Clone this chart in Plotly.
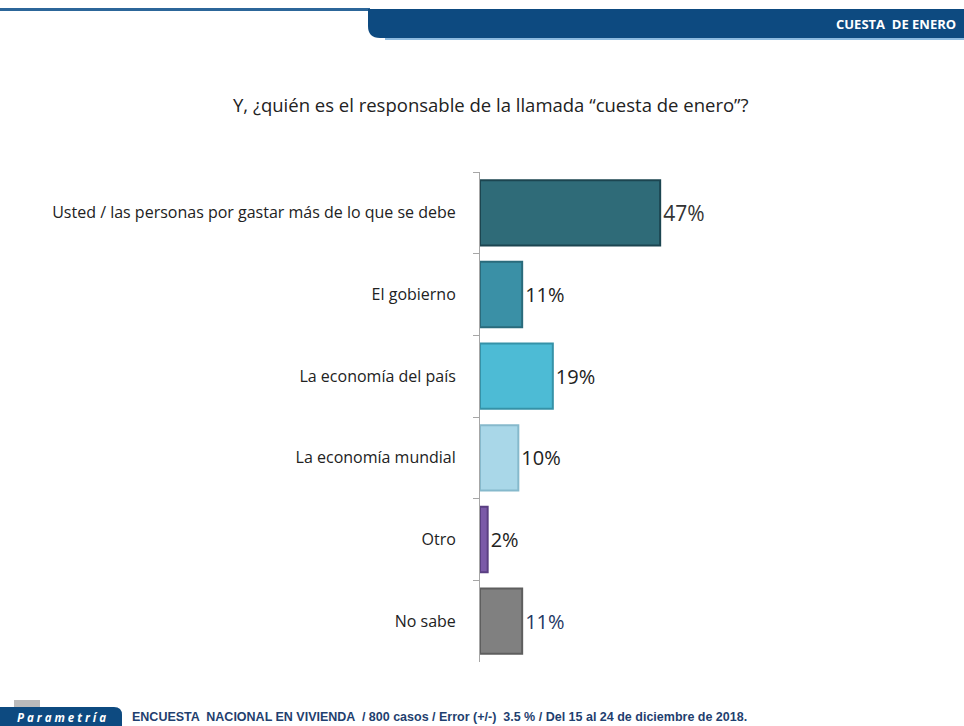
import plotly.graph_objects as go

categories = [
    "Usted / las personas por gastar más de lo que se debe",
    "El gobierno",
    "La economía del país",
    "La economía mundial",
    "Otro",
    "No sabe",
]
values = [47, 11, 19, 10, 2, 11]
labels = ["47%", "11%", "19%", "10%", "2%", "11%"]

bar_colors = ["#2F6B78", "#3A90A6", "#4DBBD5", "#A9D7E8", "#7B5AA8", "#808080"]
edge_colors = ["#1C4550", "#2A6B7C", "#3592A8", "#86B9CC", "#5A3F82", "#5E5E5E"]
text_colors = ["#333333", "#222222", "#222222", "#222222", "#222222", "#1F3864"]
text_sizes = [21, 20, 20, 20, 20, 20]

W, H = 964, 726
L, R, T, B = 480, 254, 172, 64
PW, PH = W - L - R, H - T - B

def px(x):
    return (x - L) / PW

def py(y):
    return 1 - (y - T) / PH

fig = go.Figure()
fig.add_trace(go.Bar(
    y=categories, x=values, orientation="h",
    marker=dict(color=bar_colors, line=dict(color=edge_colors, width=2)),
    width=0.8,
    text=labels, textposition="outside", cliponaxis=False,
    textfont=dict(family="Open Sans, sans-serif", color=text_colors, size=text_sizes),
    hoverinfo="skip",
))

shapes = []
# header thin line
shapes.append(dict(type="rect", xref="paper", yref="paper",
                   x0=px(0), x1=px(370), y0=py(11), y1=py(8),
                   fillcolor="#2C6699", line=dict(width=0), layer="below"))
# header band with rounded bottom-left
x0, x1, y0, y1, r = px(368), px(964), py(9), py(38), 12
path = (f"M {x0},{y0} L {x1},{y0} L {x1},{y1} L {px(368+r)},{y1} "
        f"Q {x0},{y1} {x0},{py(38-r)} Z")
shapes.append(dict(type="path", xref="paper", yref="paper", path=path,
                   fillcolor="#0D4A80", line=dict(width=0), layer="below"))
shapes.append(dict(type="rect", xref="paper", yref="paper",
                   x0=px(385), x1=px(964), y0=py(40), y1=py(38),
                   fillcolor="#8DBBE0", line=dict(width=0), layer="below"))
# footer box with rounded top-right
fx0, fx1, fy0, fy1, fr = px(0), px(122), py(707), py(726), 8
fpath = (f"M {fx0},{fy1} L {fx0},{fy0} L {px(122-fr)},{fy0} "
         f"Q {fx1},{fy0} {fx1},{py(707+fr)} L {fx1},{fy1} Z")
shapes.append(dict(type="path", xref="paper", yref="paper", path=fpath,
                   fillcolor="#0D4A80", line=dict(width=0), layer="below"))
shapes.append(dict(type="rect", xref="paper", yref="paper",
                   x0=px(14), x1=px(40), y0=py(707), y1=py(700),
                   fillcolor="#BBBBBB", line=dict(width=0), layer="below"))

annotations = [
    dict(text="<b>CUESTA  DE ENERO</b>", xref="paper", yref="paper",
         x=px(958), y=py(24), xanchor="right", yanchor="middle", showarrow=False,
         font=dict(family="Open Sans, sans-serif", size=13, color="white")),
    dict(text="Y, ¿quién es el responsable de la llamada “cuesta de enero”?",
         xref="paper", yref="paper", x=px(491), y=py(105), xanchor="center",
         yanchor="middle", showarrow=False,
         font=dict(family="Open Sans, sans-serif", size=18.5, color="#222222")),
    dict(text="<b><i>P a r a m e t r í a</i></b>", xref="paper", yref="paper",
         x=px(61), y=py(717), xanchor="center", yanchor="middle", showarrow=False,
         font=dict(family="Open Sans, sans-serif", size=11.5, color="white")),
    dict(text="<b>ENCUESTA  NACIONAL EN VIVIENDA  / 800 casos / Error (+/-)  3.5 % / Del 15 al 24 de diciembre de 2018.</b>",
         xref="paper", yref="paper", x=px(130), y=py(717), xanchor="left",
         yanchor="middle", showarrow=False,
         font=dict(family="Liberation Sans Narrow, Liberation Sans, sans-serif", size=12.5, color="#1F3F6F")),
]

fig.update_layout(
    width=W, height=H,
    margin=dict(l=L, r=R, t=T, b=B),
    paper_bgcolor="white", plot_bgcolor="white",
    showlegend=False,
    shapes=shapes, annotations=annotations,
    font=dict(family="Open Sans, sans-serif", size=16, color="#222222"),
    xaxis=dict(range=[0, 60], visible=False, fixedrange=True),
    yaxis=dict(autorange="reversed", showline=True, linecolor="#A6A6A6", linewidth=1,
               ticks="outside", tickson="boundaries", ticklen=6, tickcolor="#A6A6A6",
               ticklabelstandoff=20, tickfont=dict(size=16, color="#222222"),
               showgrid=False, zeroline=False, fixedrange=True),
)

fig.write_html("out.html", config={"displayModeBar": False},
               post_script="document.body.style.margin='0';document.body.style.overflow='hidden';")
